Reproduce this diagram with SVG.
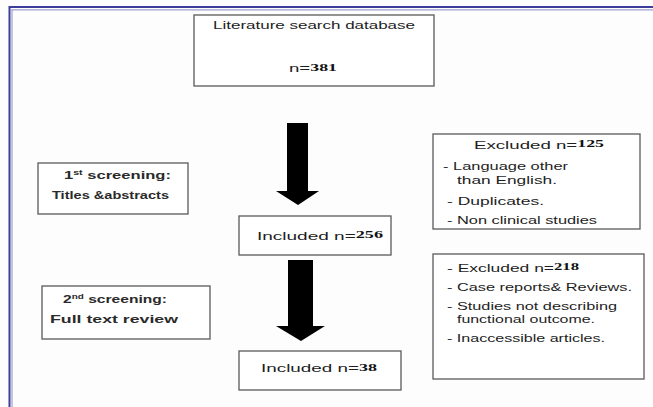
<svg xmlns="http://www.w3.org/2000/svg" width="653" height="407" viewBox="0 0 653 407">
<style>
.box{fill:#ffffff;stroke:#5a5a5a;stroke-width:1.3}
.t{font-family:"Liberation Sans",Arial,sans-serif;font-size:11.5px;fill:#1e1e1e}
.b{font-family:"Liberation Sans",Arial,sans-serif;font-size:11px;font-weight:bold;fill:#2a2a2a}
.num{font-family:"Liberation Serif","Times New Roman",serif;font-weight:bold;font-size:11px;fill:#111}
.sup{font-size:7px}
.arrow{fill:#000}
</style>
<rect width="653" height="407" fill="#fdfdfd"/>
<g id="frame">
<line x1="9.5" y1="6" x2="9.5" y2="407" stroke="#3d3d9c" stroke-width="2"/>
<line x1="9" y1="7" x2="653" y2="7" stroke="#3d3d9c" stroke-width="2"/>
<line x1="12" y1="9.5" x2="12" y2="407" stroke="#a0a0d0" stroke-width="1.2"/>
<line x1="11.5" y1="9.8" x2="653" y2="9.8" stroke="#a0a0d0" stroke-width="1.2"/>
</g>
<g id="connectors">
<polygon class="arrow" points="287,123 308,123 308,191 319,191 298,205 276,191 287,191"/>
<polygon class="arrow" points="288,260 313,260 313,326 325,326 301,341 276,326 288,326"/>
</g>
<g id="n_search">
<rect class="box" x="194" y="15" width="240" height="71"/>
<text class="t" x="213" y="29" textLength="202" lengthAdjust="spacingAndGlyphs">Literature search database</text>
<text class="t" x="289" y="72" textLength="48" lengthAdjust="spacingAndGlyphs">n=<tspan class="num" dy="-1">381</tspan></text>
</g>
<g id="n_screen1">
<rect class="box" x="38" y="163" width="150" height="51"/>
<text class="b" x="64" y="179" textLength="107" lengthAdjust="spacingAndGlyphs">1<tspan class="sup" dy="-4">st</tspan><tspan dy="4"> screening:</tspan></text>
<text class="b" x="52" y="199" textLength="117" lengthAdjust="spacingAndGlyphs">Titles &amp;abstracts</text>
</g>
<g id="n_included1">
<rect class="box" x="239" y="216" width="152" height="39"/>
<text class="t" x="257" y="240" textLength="126" lengthAdjust="spacingAndGlyphs">Included  n=<tspan class="num" dy="-2">256</tspan></text>
</g>
<g id="n_excluded1">
<rect class="box" x="433" y="134" width="207" height="95"/>
<text class="t" x="474" y="149" textLength="130" lengthAdjust="spacingAndGlyphs">Excluded  n=<tspan class="num" dy="-2">125</tspan></text>
<text class="t" x="443" y="170" textLength="125" lengthAdjust="spacingAndGlyphs">- Language other</text>
<text class="t" x="457" y="184" textLength="100" lengthAdjust="spacingAndGlyphs">than English.</text>
<text class="t" x="447" y="205" textLength="97" lengthAdjust="spacingAndGlyphs">- Duplicates.</text>
<text class="t" x="447" y="224" textLength="150" lengthAdjust="spacingAndGlyphs">- Non clinical studies</text>
</g>
<g id="n_screen2">
<rect class="box" x="42" y="286" width="168" height="53"/>
<text class="b" x="63" y="303" textLength="104" lengthAdjust="spacingAndGlyphs">2<tspan class="sup" dy="-4">nd</tspan><tspan dy="4"> screening:</tspan></text>
<text class="b" x="50" y="323" textLength="128" lengthAdjust="spacingAndGlyphs">Full text review</text>
</g>
<g id="n_included2">
<rect class="box" x="239" y="351" width="162" height="39"/>
<text class="t" x="261" y="372" textLength="116" lengthAdjust="spacingAndGlyphs">Included  n=<tspan class="num" dy="-1">38</tspan></text>
</g>
<g id="n_excluded2">
<rect class="box" x="433" y="254" width="211" height="125"/>
<text class="t" x="447" y="272" textLength="132" lengthAdjust="spacingAndGlyphs">- Excluded  n=<tspan class="num" dy="-2">218</tspan></text>
<text class="t" x="447" y="291" textLength="185" lengthAdjust="spacingAndGlyphs">- Case reports&amp;  Reviews.</text>
<text class="t" x="447" y="310" textLength="170" lengthAdjust="spacingAndGlyphs">- Studies not describing</text>
<text class="t" x="457" y="323" textLength="138" lengthAdjust="spacingAndGlyphs">functional outcome.</text>
<text class="t" x="447" y="342" textLength="158" lengthAdjust="spacingAndGlyphs">- Inaccessible articles.</text>
</g>
</svg>
